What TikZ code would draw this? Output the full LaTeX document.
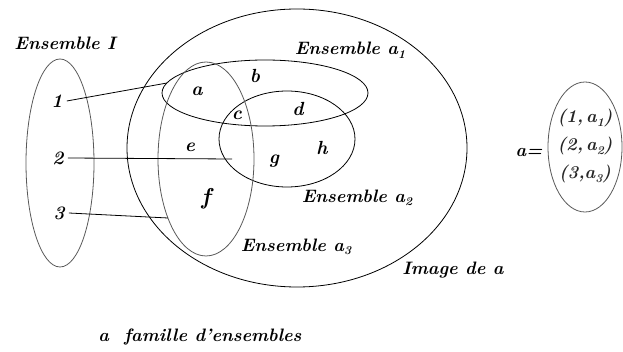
\documentclass[tikz,border=0pt]{standalone}
\usepackage{tikz}
\newcommand{\sbx}[1]{\raisebox{-0.45ex}{\fontsize{12}{12}\selectfont #1}}
\begin{document}
\begin{tikzpicture}[x=1pt,y=-1pt,
  lbl/.style={font=\fontsize{19}{19}\selectfont\bfseries\itshape, inner sep=0pt},
  captxt/.style={font=\fontsize{18}{18}\selectfont\bfseries\itshape, inner sep=0pt},
  pairtxt/.style={font=\fontsize{18}{18}\selectfont\bfseries\itshape, inner sep=0pt, text=black!85},
  setline/.style={line width=0.8pt, black},
  greyline/.style={line width=0.8pt, black!65},
  conn/.style={line width=0.8pt, black}]
\useasboundingbox (0,0) rectangle (623,352);
% sets
\draw[greyline] (60,163) ellipse [x radius=34, y radius=104];
\draw[setline] (297,148) ellipse [x radius=170, y radius=139];
\draw[setline] (265,93) ellipse [x radius=103, y radius=33];
\draw[setline] (287,139) ellipse [x radius=68, y radius=48];
\draw[greyline] (206,159) ellipse [x radius=48, y radius=97];
\draw[greyline] (585,147) ellipse [x radius=37, y radius=65];
% labels left
\node[captxt] (EI) at (65,43) {Ensemble I};
\node[lbl] (n1) at (57,101) {1};
\node[lbl] (n2) at (58,158) {2};
\node[lbl] (n3) at (59,213) {3};
\coordinate (e1) at (167,83);
\coordinate (e2) at (232,159);
\coordinate (e3) at (168,218);
\draw[conn] (n1.east) ++(4,0) coordinate (s1) (s1) -- (e1);
\draw[conn] (n2.east) ++(4,0) coordinate (s2) (s2) -- (e2);
\draw[conn] (n3.east) ++(4,0) coordinate (s3) (s3) -- (e3);
% elements
\node[lbl] (a) at (197,91) {a};
\node[lbl] (b) at (255,76) {b};
\node[lbl] (c) at (237,115) {c};
\node[lbl] (d) at (298,109) {d};
\node[lbl] (e) at (190,147) {e};
\node[lbl] (g) at (274,161) {g};
\node[lbl] (h) at (322,148) {h};
\node[lbl, font=\fontsize{23}{23}\selectfont\bfseries\itshape] (f) at (206,199) {f};
% set captions
\node[captxt] (A1) at (350,50) {Ensemble a\sbx{1}};
\node[captxt] (A2) at (357,198) {Ensemble a\sbx{2}};
\node[captxt] (A3) at (296,247) {Ensemble a\sbx{3}};
\node[captxt] (Im) at (453,270) {Image de a};
\node[captxt] (fam) at (200,337) {a\ \ famille d'ensembles};
% right
\node[captxt] (aeq) at (529,153) {a=};
\node[pairtxt] (p1) at (585,118) {(1,\,a\sbx{1})};
\node[pairtxt] (p2) at (585,146) {(2,\,a\sbx{2})};
\node[pairtxt] (p3) at (585,174) {(3,a\sbx{3})};
\end{tikzpicture}
\end{document}
